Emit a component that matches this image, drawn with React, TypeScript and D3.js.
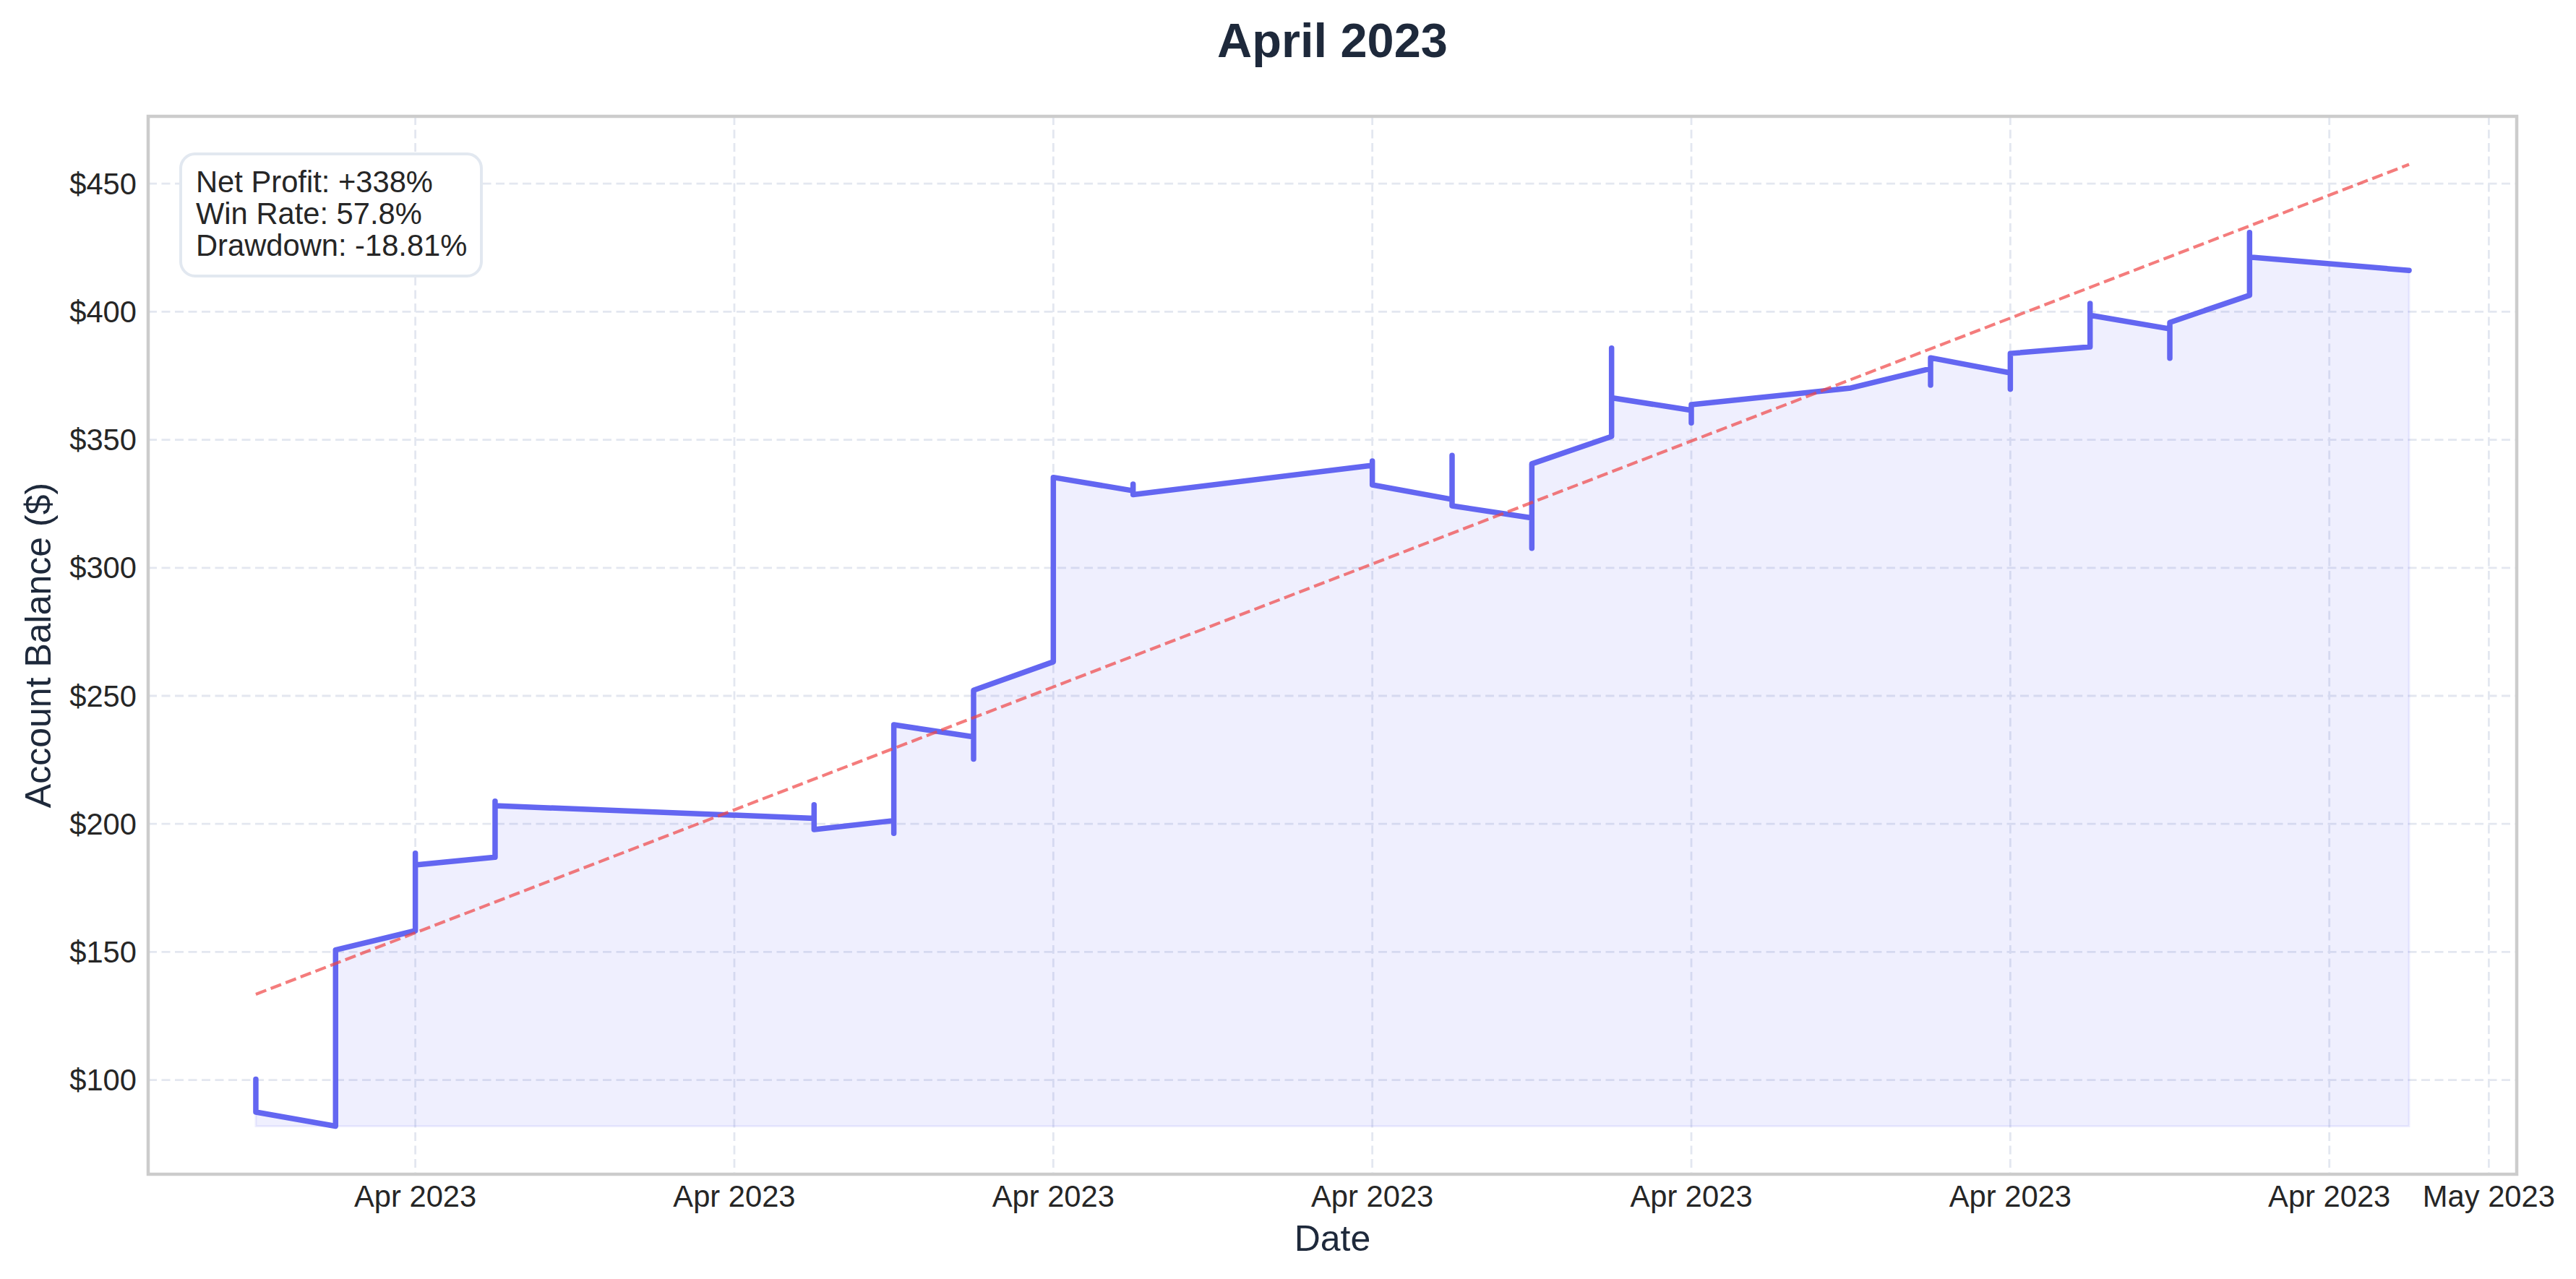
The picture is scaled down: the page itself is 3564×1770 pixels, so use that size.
import React from "react"
import * as d3 from "d3"

// one entry per point on the balance curve; several points can share a day
const pointDates = [
	"2023-04-03", "2023-04-03",
	"2023-04-04", "2023-04-04",
	"2023-04-05", "2023-04-05", "2023-04-05",
	"2023-04-06", "2023-04-06", "2023-04-06",
	"2023-04-10", "2023-04-10", "2023-04-10",
	"2023-04-11", "2023-04-11", "2023-04-11",
	"2023-04-12", "2023-04-12", "2023-04-12",
	"2023-04-13", "2023-04-13",
	"2023-04-14", "2023-04-14", "2023-04-14",
	"2023-04-17", "2023-04-17", "2023-04-17",
	"2023-04-18", "2023-04-18", "2023-04-18",
	"2023-04-19", "2023-04-19", "2023-04-19",
	"2023-04-20", "2023-04-20", "2023-04-20",
	"2023-04-21", "2023-04-21", "2023-04-21",
	"2023-04-23",
	"2023-04-24", "2023-04-24", "2023-04-24",
	"2023-04-25", "2023-04-25", "2023-04-25",
	"2023-04-26", "2023-04-26", "2023-04-26",
	"2023-04-27", "2023-04-27", "2023-04-27",
	"2023-04-28", "2023-04-28", "2023-04-28",
	"2023-04-30",
]

const balances = [
	100.3, 87.5,
	82.0, 150.8,
	158.3, 188.6, 184.0,
	187.0, 208.9, 207.1,
	202.2, 207.5, 197.8,
	201.3, 196.3, 238.7,
	234.0, 225.3, 252.2,
	263.3, 335.3,
	330.1, 332.7, 328.6,
	340.0, 341.7, 332.4,
	326.7, 343.9, 324.2,
	319.5, 307.6, 340.6,
	351.3, 385.8, 366.4,
	361.5, 356.6, 363.7,
	370.2,
	377.8, 371.3, 382.0,
	376.1, 369.8, 383.7,
	386.3, 403.2, 398.6,
	393.3, 381.8, 395.8,
	406.4, 430.9, 421.3,
	416.1,
]

// dashed trend line, start and end
const trendDates = ["2023-04-03", "2023-04-30"]
const trendValues = [133.5, 457.5]

const xTickDates = [
	"2023-04-05", "2023-04-09", "2023-04-13", "2023-04-17",
	"2023-04-21", "2023-04-25", "2023-04-29", "2023-05-01",
]
const yTicks = [100, 150, 200, 250, 300, 350, 400, 450]

const statLines = ["Net Profit: +338%", "Win Rate: 57.8%", "Drawdown: -18.81%"]

const W = 3564
const H = 1770
const margin = { top: 161, right: 82, bottom: 145, left: 205 }
const FONT = "'Liberation Sans', Arial, sans-serif"

const parse = d3.utcParse("%Y-%m-%d")

export default function App() {
	const pts = pointDates.map((d, i) => ({ date: parse(d) as Date, v: balances[i] }))
	const trend = trendDates.map((d, i) => ({ date: parse(d) as Date, v: trendValues[i] }))

	const innerW = W - margin.left - margin.right
	const innerH = H - margin.top - margin.bottom
	const x0 = margin.left
	const x1 = margin.left + innerW
	const y0 = margin.top
	const y1 = margin.top + innerH

	const [dMin, dMax] = d3.extent(pts, (p) => p.date) as [Date, Date]
	const dPad = (dMax.getTime() - dMin.getTime()) * 0.05
	const x = d3
		.scaleUtc()
		.domain([new Date(dMin.getTime() - dPad), new Date(dMax.getTime() + dPad)])
		.range([x0, x1])

	const allV = balances.concat(trendValues)
	const vMin = d3.min(allV) as number
	const vMax = d3.max(allV) as number
	const vPad = (vMax - vMin) * 0.05
	const y = d3.scaleLinear().domain([vMin - vPad, vMax + vPad]).range([y1, y0])

	const baseV = d3.min(balances) as number
	const area = d3
		.area<{ date: Date; v: number }>()
		.x((p) => x(p.date))
		.y0(y(baseV))
		.y1((p) => y(p.v))
	const line = d3
		.line<{ date: Date; v: number }>()
		.x((p) => x(p.date))
		.y((p) => y(p.v))

	const fmt = d3.utcFormat("%b %Y")
	const xTicks = xTickDates.map((d) => parse(d) as Date)

	const gridColor = "#e3e7f0"
	const textColor = "#262626"
	const labelColor = "#1e293b"

	return (
		<div style={{ position: "absolute", left: 0, top: 0 }}>
			<svg width={W} height={H} style={{ display: "block", background: "#fff" }} fontFamily={FONT}>
				<rect x={0} y={0} width={W} height={H} fill="#fff" />
				<clipPath id="plot">
					<rect x={x0} y={y0} width={innerW} height={innerH} />
				</clipPath>

				{/* grid */}
				<g stroke={gridColor} strokeWidth={2.8} strokeDasharray="12,6.5">
					{yTicks.map((t) => (
						<line key={"gy" + t} x1={x0} x2={x1} y1={y(t)} y2={y(t)} />
					))}
					{xTicks.map((t, i) => (
						<line key={"gx" + i} x1={x(t)} x2={x(t)} y1={y0} y2={y1} />
					))}
				</g>

				<g clipPath="url(#plot)">
					<path
						d={area(pts) || ""}
						fill="rgba(99,102,241,0.1)"
						stroke="rgba(99,102,241,0.1)"
						strokeWidth={3}
					/>
					<path
						d={line(pts) || ""}
						fill="none"
						stroke="#6366f1"
						strokeWidth={7.5}
						strokeLinejoin="round"
						strokeLinecap="round"
					/>
					<path
						d={line(trend) || ""}
						fill="none"
						stroke="#ef4444"
						strokeOpacity={0.7}
						strokeWidth={4.2}
						strokeDasharray="15.4,6.7"
					/>
				</g>

				{/* frame */}
				<rect x={x0} y={y0} width={innerW} height={innerH} fill="none" stroke="#cccccc" strokeWidth={4.5} />

				{/* y tick labels */}
				<g fontSize={41.7} fill={textColor} textAnchor="end">
					{yTicks.map((t) => (
						<text key={"ly" + t} x={x0 - 16} y={y(t)} dy="0.35em">
							{"$" + t}
						</text>
					))}
				</g>

				{/* x tick labels */}
				<g fontSize={41.7} fill={textColor} textAnchor="middle">
					{xTicks.map((t, i) => (
						<text key={"lx" + i} x={x(t)} y={1670}>
							{fmt(t)}
						</text>
					))}
				</g>

				<text x={(x0 + x1) / 2} y={1731} fontSize={50} fill={labelColor} textAnchor="middle">
					Date
				</text>
				<text
					transform={`translate(70,${(y0 + y1) / 2}) rotate(-90)`}
					fontSize={50}
					fill={labelColor}
					textAnchor="middle">
					Account Balance ($)
				</text>

				<text x={(x0 + x1) / 2} y={79} fontSize={66.7} fontWeight="bold" fill={labelColor} textAnchor="middle">
					April 2023
				</text>

				{/* stats box */}
				<rect x={250} y={213} width={416} height={169} rx={20} ry={20} fill="#fff" stroke="#e2e8f0" strokeWidth={4} />
				<g fontSize={41.7} fill={textColor}>
					{statLines.map((s, i) => (
						<text key={s} x={271} y={266 + i * 44}>
							{s}
						</text>
					))}
				</g>
			</svg>
		</div>
	)
}
